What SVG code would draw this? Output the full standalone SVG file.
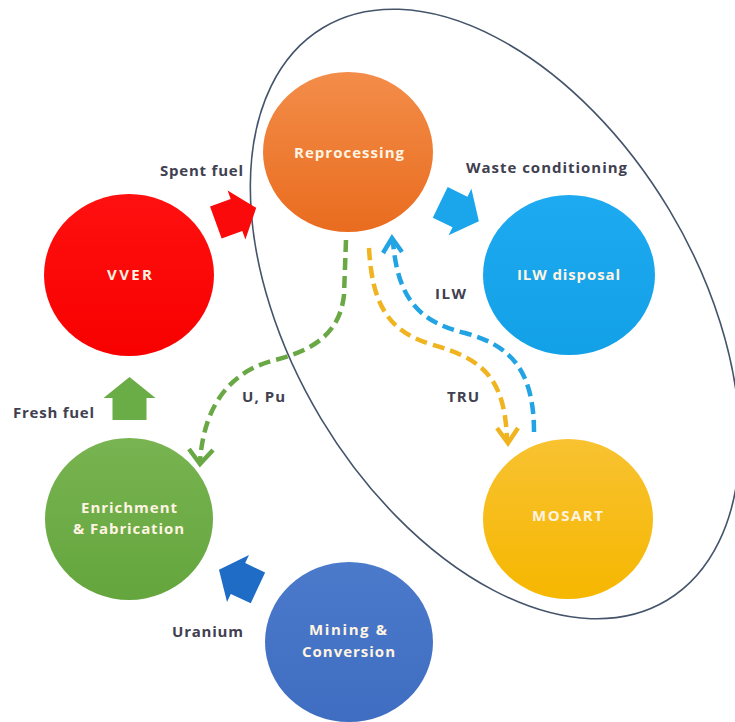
<svg xmlns="http://www.w3.org/2000/svg" width="735" height="722" viewBox="0 0 735 722">
<defs>
<style>
.lbl{font-family:"Open Sans","Noto Sans","Liberation Sans",sans-serif;font-weight:bold;font-size:15px;fill:#40404f;text-anchor:middle}
.ntx{font-family:"Open Sans","Noto Sans","Liberation Sans",sans-serif;font-weight:bold;font-size:15px;fill:#fff4e2;text-anchor:middle}
.dash{fill:none;stroke-width:4.5;stroke-dasharray:12 6}
.head{fill:none;stroke-width:4.5;stroke-linejoin:miter;stroke-linecap:butt}
</style>
<linearGradient id="gOr" x1="0" y1="0" x2="0" y2="1"><stop offset="0" stop-color="#f38d49"/><stop offset="1" stop-color="#e96c1f"/></linearGradient>
<linearGradient id="gRd" x1="0" y1="0" x2="0" y2="1"><stop offset="0" stop-color="#ff1010"/><stop offset="1" stop-color="#f80000"/></linearGradient>
<linearGradient id="gBl" x1="0" y1="0" x2="0" y2="1"><stop offset="0" stop-color="#1eaaf0"/><stop offset="1" stop-color="#12a0e6"/></linearGradient>
<linearGradient id="gYe" x1="0" y1="0" x2="0" y2="1"><stop offset="0" stop-color="#f8c231"/><stop offset="1" stop-color="#f6b700"/></linearGradient>
<linearGradient id="gGr" x1="0" y1="0" x2="0" y2="1"><stop offset="0" stop-color="#78b451"/><stop offset="1" stop-color="#64a53d"/></linearGradient>
<linearGradient id="gMb" x1="0" y1="0" x2="0" y2="1"><stop offset="0" stop-color="#4b7acb"/><stop offset="1" stop-color="#3f6dc1"/></linearGradient>
<polygon id="blk" points="-22,-17 0,-17 0,-26 21,0 0,26 0,17 -22,17"/>
</defs>
<rect width="735" height="722" fill="#ffffff"/>

<g id="boundary">
<ellipse cx="495" cy="314" rx="334" ry="203" transform="rotate(59 495 314)" fill="none" stroke="#44546a" stroke-width="1.6"/>
</g>

<g id="node-vver">
<ellipse cx="129" cy="275" rx="85" ry="81" fill="url(#gRd)"/>
<text class="ntx" x="129.5" y="280" textLength="45">VVER</text>
</g>
<g id="node-reprocessing">
<ellipse cx="348" cy="152" rx="85" ry="80" fill="url(#gOr)"/>
<text class="ntx" x="349" y="158" textLength="110">Reprocessing</text>
</g>
<g id="node-ilw">
<ellipse cx="569" cy="275" rx="86" ry="80" fill="url(#gBl)"/>
<text class="ntx" x="568.5" y="280" textLength="103">ILW disposal</text>
</g>
<g id="node-mosart">
<ellipse cx="568" cy="519" rx="85" ry="80" fill="url(#gYe)"/>
<text class="ntx" x="567.5" y="521" textLength="71">MOSART</text>
</g>
<g id="node-enrichment">
<ellipse cx="129" cy="519" rx="84" ry="81" fill="url(#gGr)"/>
<text class="ntx" x="129" y="513" textLength="96">Enrichment</text>
<text class="ntx" x="128.5" y="534" textLength="111">&amp; Fabrication</text>
</g>
<g id="node-mining">
<ellipse cx="349" cy="642" rx="84" ry="80" fill="url(#gMb)"/>
<text class="ntx" x="348" y="635" textLength="78">Mining &amp;</text>
<text class="ntx" x="348.5" y="657" textLength="93">Conversion</text>
</g>

<g id="connectors">
<use href="#blk" fill="#fa0a0a" transform="translate(236.5 215) rotate(-20)"/>
<use href="#blk" fill="#1ba6ec" transform="translate(460 212) rotate(26)"/>
<use href="#blk" fill="#6aac45" transform="translate(129.5 398) rotate(-90)"/>
<use href="#blk" fill="#1f6cc6" transform="translate(238 578.5) rotate(205)"/>

<path class="dash" stroke="#6aa845" d="M346 240 L344 295 C340 332 315 350 275 360 C235 370 204 400 200 462"/>
<path class="head" stroke="#6aa845" d="M189 449 L200 464 L213 450"/>

<path class="dash" stroke="#f0b420" d="M369 248 C372 300 385 330 430 344 C480 358 505 375 507 440"/>
<path class="head" stroke="#f0b420" d="M497 428 L508 443 L518 428"/>

<path class="dash" stroke="#22a4e4" d="M534 432 C534 370 510 345 465 333 C420 322 398 300 393 242"/>
<path class="head" stroke="#22a4e4" d="M383 253 L392 238 L402 252"/>
</g>

<g id="labels">
<text class="lbl" x="201.5" y="176" textLength="83">Spent fuel</text>
<text class="lbl" x="546.5" y="173" textLength="161">Waste conditioning</text>
<text class="lbl" x="450.5" y="299" textLength="31">ILW</text>
<text class="lbl" x="463" y="402" textLength="32">TRU</text>
<text class="lbl" x="263.5" y="402" textLength="43">U, Pu</text>
<text class="lbl" x="53.5" y="418" textLength="81">Fresh fuel</text>
<text class="lbl" x="207.5" y="637" textLength="71">Uranium</text>
</g>
</svg>
